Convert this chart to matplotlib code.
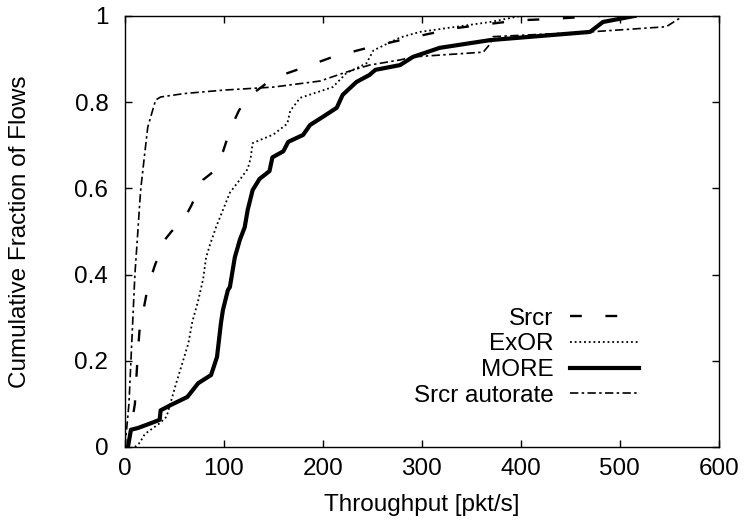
import numpy as np
import matplotlib
matplotlib.use('Agg')
import matplotlib.pyplot as plt
from matplotlib.ticker import FuncFormatter

# CDF curves: throughput [pkt/s] vs. cumulative fraction
srcr_x = [3, 10, 13, 15, 18, 23, 30, 35, 40, 47, 60, 67, 73, 79, 90, 99, 104, 109, 115, 123,
          135, 150, 180, 210, 240, 271, 300, 335, 366, 399, 431, 465, 480]
srcr_y = [0, 0.1, 0.22, 0.28, 0.31, 0.37, 0.42, 0.45, 0.48, 0.5, 0.53, 0.56, 0.59, 0.62, 0.64, 0.685,
          0.72, 0.75, 0.78, 0.81, 0.83, 0.856, 0.88, 0.905, 0.923, 0.94, 0.955, 0.972, 0.981, 0.99,
          0.993, 0.998, 1.0]

exor_x = [10, 15, 20, 35, 42, 47, 52, 58, 64, 68, 74, 79, 82, 86, 92, 99, 106, 116, 124, 127,
          129, 150, 164, 167, 177, 210, 224, 244, 251, 278, 298, 369, 400]
exor_y = [0, 0.01, 0.03, 0.055, 0.07, 0.11, 0.15, 0.195, 0.24, 0.29, 0.34, 0.39, 0.44, 0.47, 0.51,
          0.55, 0.59, 0.62, 0.645, 0.67, 0.705, 0.725, 0.75, 0.78, 0.81, 0.835, 0.868, 0.89, 0.92,
          0.95, 0.963, 0.986, 1.0]

more_x = [3, 6, 13, 26, 35, 36, 46, 63, 74, 87, 93, 97, 99, 104, 106, 111, 116, 121, 124, 129,
          136, 146, 149, 160, 165, 180, 187, 200, 214, 220, 234, 247, 253, 278, 291, 318, 369,
          470, 483, 515]
more_y = [0, 0.04, 0.044, 0.055, 0.063, 0.085, 0.097, 0.116, 0.148, 0.167, 0.209, 0.288, 0.318,
          0.364, 0.371, 0.44, 0.48, 0.51, 0.55, 0.596, 0.622, 0.64, 0.672, 0.686, 0.708, 0.724,
          0.747, 0.766, 0.787, 0.817, 0.847, 0.863, 0.875, 0.886, 0.905, 0.926, 0.944, 0.963,
          0.986, 1.0]

auto_x = [0, 2, 4, 6, 8, 10, 13, 15, 16, 20, 23, 26, 31, 36, 60, 100, 150, 197, 224, 247, 278,
          291, 362, 369, 372, 470, 547, 564]
auto_y = [0, 0.05, 0.1, 0.2, 0.3, 0.4, 0.5, 0.57, 0.6, 0.682, 0.742, 0.766, 0.805, 0.812, 0.82,
          0.828, 0.835, 0.849, 0.87, 0.886, 0.898, 0.905, 0.916, 0.935, 0.952, 0.963, 0.975, 1.0]

x_ticks = [0, 100, 200, 300, 400, 500, 600]
y_ticks = [0, 0.2, 0.4, 0.6, 0.8, 1]

plt.rcParams['font.family'] = ['Liberation Sans', 'DejaVu Sans']
plt.rcParams['font.size'] = 17.5

fig = plt.figure(figsize=(7.44, 5.25), dpi=100)
ax = fig.add_axes([0.168, 0.1486, 0.798, 0.821])

ax.plot(srcr_x, srcr_y, color='black', lw=1.7, linestyle=(0, (5, 10)), label='Srcr')
ax.plot(exor_x, exor_y, color='black', lw=1.3, linestyle=(0, (1, 1.6)), label='ExOR')
ax.plot(more_x, more_y, color='black', lw=3.0, linestyle='-', label='MORE')
ax.plot(auto_x, auto_y, color='black', lw=1.2, linestyle=(0, (5, 2, 1.5, 2)), label='Srcr autorate')

ax.set_xlim(0, 600)
ax.set_ylim(0, 1)
ax.set_xticks(x_ticks)
ax.set_yticks(y_ticks)
ax.yaxis.set_major_formatter(FuncFormatter(lambda v, p: ('%g' % v)))
ax.tick_params(direction='in', length=5, width=1, top=True, right=True)
ax.tick_params(axis='y', pad=12)
ax.tick_params(axis='x', pad=8)
for s in ax.spines.values():
    s.set_linewidth(1)

ax.set_xlabel('Throughput [pkt/s]', labelpad=10)
ax.set_ylabel('Cumulative Fraction of Flows', labelpad=31)

ax.legend(loc='upper right', bbox_to_anchor=(0.865, 0.323), frameon=False, markerfirst=False,
          borderpad=0, borderaxespad=0, handlelength=2.8, handletextpad=0.7, labelspacing=0.15)

fig.savefig('out.png', dpi=100)
